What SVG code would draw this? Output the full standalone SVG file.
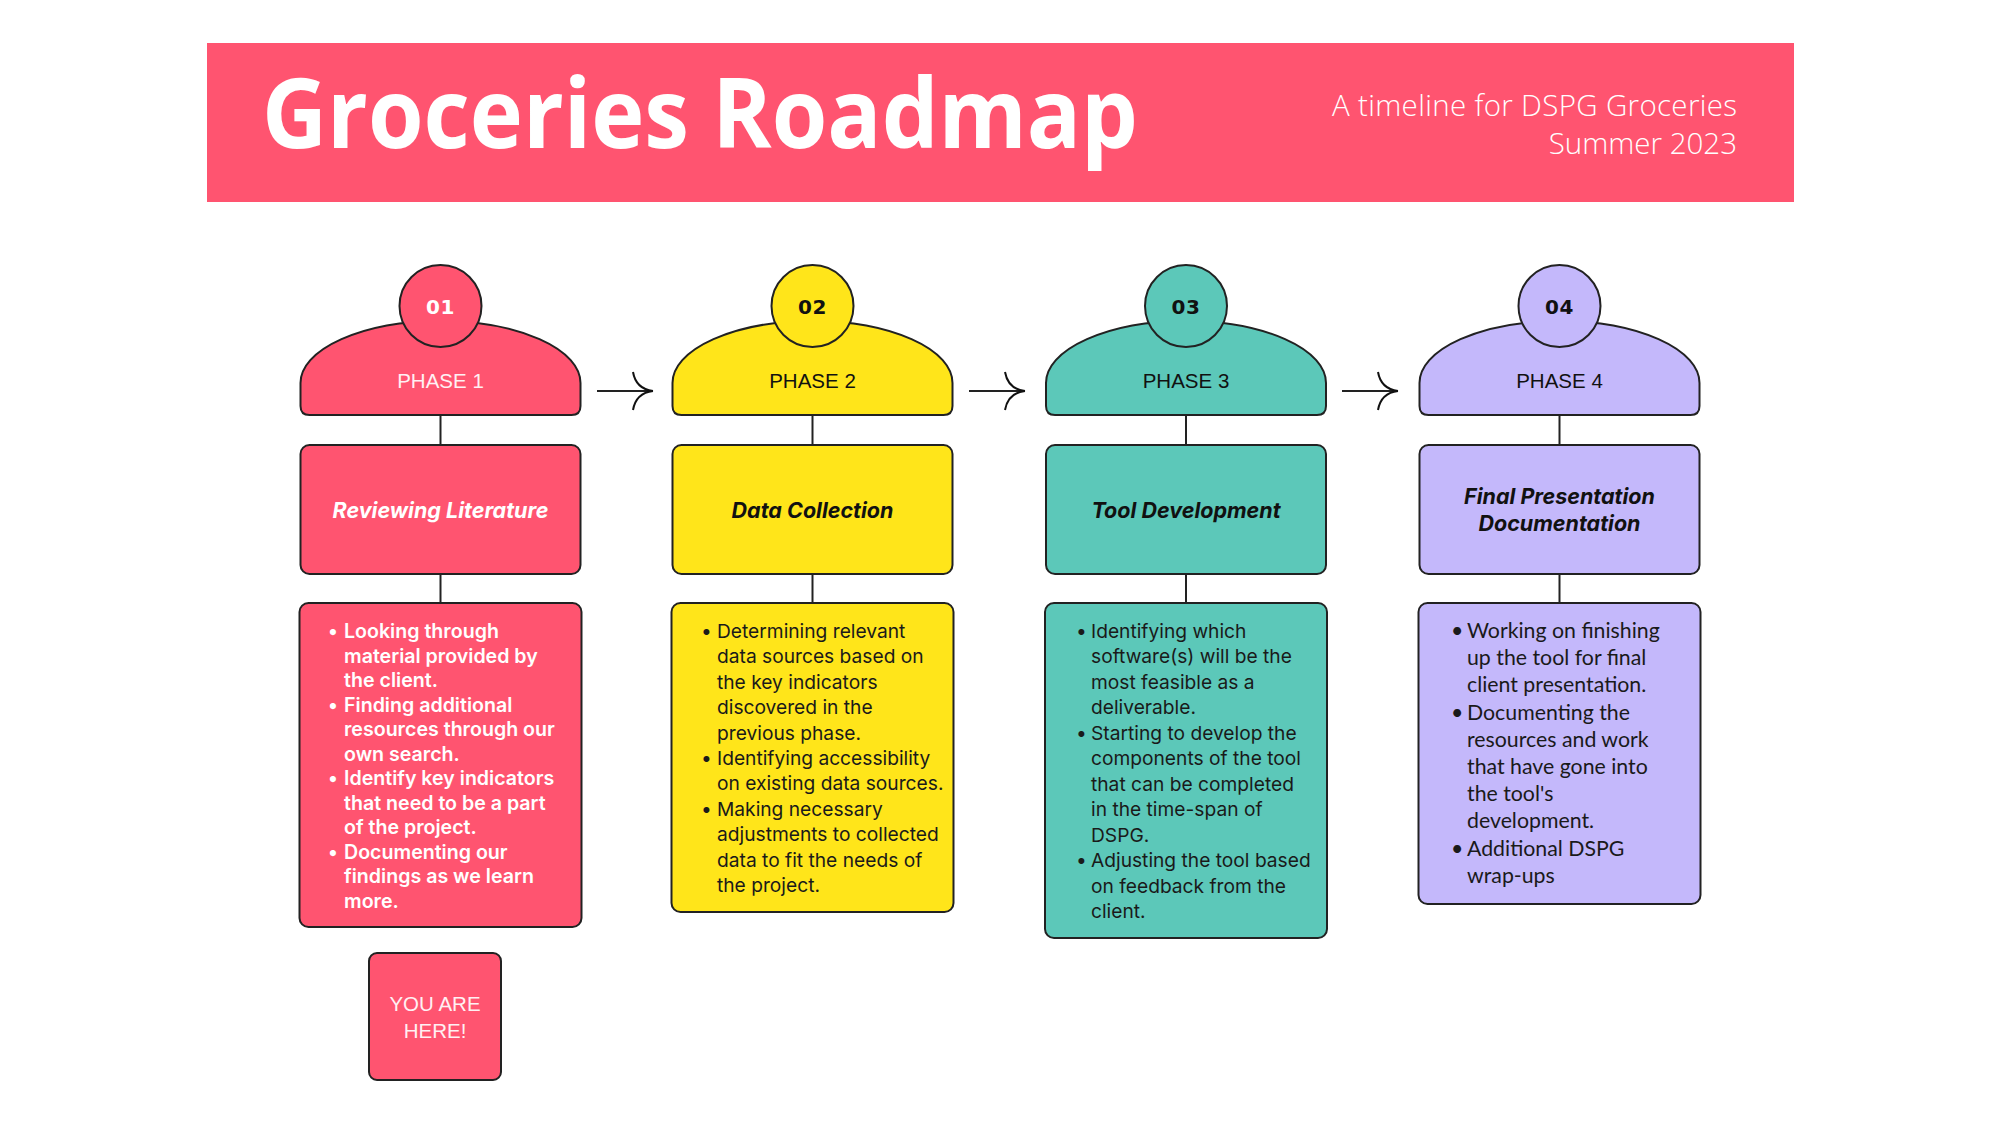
<svg xmlns="http://www.w3.org/2000/svg" width="2000" height="1125" viewBox="0 0 2000 1125">
  <style>
    .bg { fill: #ffffff; }
    .edge { stroke: #222222; stroke-width: 2; }
    .pink { fill: #FF5470; }
    .yellow { fill: #FFE51A; }
    .teal { fill: #5CC8B9; }
    .lav { fill: #C4B8FB; }
    .num { font-family: "DejaVu Sans", "Liberation Sans", sans-serif; font-weight: 700; font-size: 20px; text-anchor: middle; fill: #111111; letter-spacing: 0.5px; }
    .phase { font-family: "Liberation Sans", Arial, sans-serif; font-size: 20.5px; text-anchor: middle; fill: #111111; }
    .task { font-family: Inter, "Liberation Sans", sans-serif; font-weight: 700; font-style: italic; font-size: 21.5px; text-anchor: middle; fill: #111111; }
    .body { font-family: Inter, "Liberation Sans", sans-serif; font-size: 19.2px; fill: #1a1a1a; }
    .body1 { font-family: Inter, "Liberation Sans", sans-serif; font-weight: 600; font-size: 19.6px; fill: #ffffff; }
    .body4 { font-family: Lato, "Liberation Sans", sans-serif; font-size: 21.3px; fill: #1a1a1a; }
    .sub { font-family: "Open Sans", "Liberation Sans", sans-serif; font-weight: 300; font-size: 29.5px; fill: #ffffff; text-anchor: end; }
    .light { fill: #FFF0F3; }
    .wire { stroke: #222222; stroke-width: 2; fill: none; }
  </style>
  <defs>
    <marker id="head" markerUnits="userSpaceOnUse" viewBox="-24 -22 28 44" refX="0" refY="0" markerWidth="28" markerHeight="44" orient="auto">
      <path d="M-20,-19 Q-17,-2 0,0 M-20,19 Q-17,2 0,0" fill="none" stroke="#111111" stroke-width="2"/>
    </marker>
  </defs>

  <rect class="bg" x="0" y="0" width="2000" height="1125"/>

  <!-- Header banner -->
  <g id="header">
    <rect x="207" y="43" width="1587" height="159" fill="#FF5470"/>
    <text x="262" y="148" font-family="'Open Sans', 'Liberation Sans', sans-serif" font-weight="700" font-size="96" fill="#ffffff" textLength="876" lengthAdjust="spacingAndGlyphs">Groceries Roadmap</text>
    <text class="sub" x="1737" y="116" textLength="405" lengthAdjust="spacing">A timeline for DSPG Groceries</text>
    <text class="sub" x="1737" y="154">Summer 2023</text>
  </g>

  <!-- Connectors: stems between stacked boxes and arrows between phases -->
  <g id="connectors">
    <line class="wire" x1="440.5" y1="415" x2="440.5" y2="445"/>
    <line class="wire" x1="440.5" y1="574" x2="440.5" y2="603"/>
    <line class="wire" x1="812.5" y1="415" x2="812.5" y2="445"/>
    <line class="wire" x1="812.5" y1="574" x2="812.5" y2="603"/>
    <line class="wire" x1="1186" y1="415" x2="1186" y2="445"/>
    <line class="wire" x1="1186" y1="574" x2="1186" y2="603"/>
    <line class="wire" x1="1559.5" y1="415" x2="1559.5" y2="445"/>
    <line class="wire" x1="1559.5" y1="574" x2="1559.5" y2="603"/>
    <line class="wire" x1="597" y1="391" x2="653" y2="391" marker-end="url(#head)"/>
    <line class="wire" x1="969" y1="391" x2="1025" y2="391" marker-end="url(#head)"/>
    <line class="wire" x1="1342" y1="391" x2="1398" y2="391" marker-end="url(#head)"/>
  </g>

  <!-- Phase 1 -->
  <g id="phase1">
    <path class="pink edge" d="M300.5,383 A140,62 0 0 1 580.5,383 L580.5,406 Q580.5,415 571.5,415 L309.5,415 Q300.5,415 300.5,406 Z"/>
    <circle class="pink edge" cx="440.5" cy="306" r="41"/>
    <text class="num" x="440.5" y="314" style="fill:#ffffff">01</text>
    <text class="phase light" x="440.5" y="388">PHASE 1</text>
  </g>
  <g id="task1">
    <rect class="pink edge" x="300.5" y="445" width="280" height="129" rx="9"/>
    <text class="task" x="440.5" y="518" style="fill:#ffffff">Reviewing Literature</text>
  </g>
  <g id="details1">
    <rect class="pink edge" x="299.5" y="603" width="282" height="324" rx="9"/>
    <text class="body1">
      <tspan x="328" y="638">•</tspan>
      <tspan x="328" y="711.5">•</tspan>
      <tspan x="328" y="785">•</tspan>
      <tspan x="328" y="858.5">•</tspan>
    </text>
    <text class="body1">
      <tspan x="344" y="638">Looking through</tspan>
      <tspan x="344" dy="24.5">material provided by</tspan>
      <tspan x="344" dy="24.5">the client.</tspan>
      <tspan x="344" dy="24.5">Finding additional</tspan>
      <tspan x="344" dy="24.5">resources through our</tspan>
      <tspan x="344" dy="24.5">own search.</tspan>
      <tspan x="344" dy="24.5">Identify key indicators</tspan>
      <tspan x="344" dy="24.5">that need to be a part</tspan>
      <tspan x="344" dy="24.5">of the project.</tspan>
      <tspan x="344" dy="24.5">Documenting our</tspan>
      <tspan x="344" dy="24.5">findings as we learn</tspan>
      <tspan x="344" dy="24.5">more.</tspan>
    </text>
  </g>
  <g id="you-are-here">
    <rect class="pink edge" x="369" y="953" width="132" height="127" rx="8"/>
    <text class="phase light" x="435" y="1011">YOU ARE</text>
    <text class="phase light" x="435" y="1038">HERE!</text>
  </g>

  <!-- Phase 2 -->
  <g id="phase2">
    <path class="yellow edge" d="M672.5,383 A140,62 0 0 1 952.5,383 L952.5,406 Q952.5,415 943.5,415 L681.5,415 Q672.5,415 672.5,406 Z"/>
    <circle class="yellow edge" cx="812.5" cy="306" r="41"/>
    <text class="num" x="812.5" y="314">02</text>
    <text class="phase" x="812.5" y="388">PHASE 2</text>
  </g>
  <g id="task2">
    <rect class="yellow edge" x="672.5" y="445" width="280" height="129" rx="9"/>
    <text class="task" x="812.5" y="518">Data Collection</text>
  </g>
  <g id="details2">
    <rect class="yellow edge" x="671.5" y="603" width="282" height="309" rx="9"/>
    <text class="body">
      <tspan x="701" y="638">•</tspan>
      <tspan x="701" y="765">•</tspan>
      <tspan x="701" y="815.8">•</tspan>
    </text>
    <text class="body">
      <tspan x="717" y="638">Determining relevant</tspan>
      <tspan x="717" dy="25.4">data sources based on</tspan>
      <tspan x="717" dy="25.4">the key indicators</tspan>
      <tspan x="717" dy="25.4">discovered in the</tspan>
      <tspan x="717" dy="25.4">previous phase.</tspan>
      <tspan x="717" dy="25.4">Identifying accessibility</tspan>
      <tspan x="717" dy="25.4">on existing data sources.</tspan>
      <tspan x="717" dy="25.4">Making necessary</tspan>
      <tspan x="717" dy="25.4">adjustments to collected</tspan>
      <tspan x="717" dy="25.4">data to fit the needs of</tspan>
      <tspan x="717" dy="25.4">the project.</tspan>
    </text>
  </g>

  <!-- Phase 3 -->
  <g id="phase3">
    <path class="teal edge" d="M1046,383 A140,62 0 0 1 1326,383 L1326,406 Q1326,415 1317,415 L1055,415 Q1046,415 1046,406 Z"/>
    <circle class="teal edge" cx="1186" cy="306" r="41"/>
    <text class="num" x="1186" y="314">03</text>
    <text class="phase" x="1186" y="388">PHASE 3</text>
  </g>
  <g id="task3">
    <rect class="teal edge" x="1046" y="445" width="280" height="129" rx="9"/>
    <text class="task" x="1186" y="518">Tool Development</text>
  </g>
  <g id="details3">
    <rect class="teal edge" x="1045" y="603" width="282" height="335" rx="9"/>
    <text class="body">
      <tspan x="1076" y="638">•</tspan>
      <tspan x="1076" y="739.8">•</tspan>
      <tspan x="1076" y="867">•</tspan>
    </text>
    <text class="body">
      <tspan x="1091" y="638">Identifying which</tspan>
      <tspan x="1091" dy="25.45">software(s) will be the</tspan>
      <tspan x="1091" dy="25.45">most feasible as a</tspan>
      <tspan x="1091" dy="25.45">deliverable.</tspan>
      <tspan x="1091" dy="25.45">Starting to develop the</tspan>
      <tspan x="1091" dy="25.45">components of the tool</tspan>
      <tspan x="1091" dy="25.45">that can be completed</tspan>
      <tspan x="1091" dy="25.45">in the time-span of</tspan>
      <tspan x="1091" dy="25.45">DSPG.</tspan>
      <tspan x="1091" dy="25.45">Adjusting the tool based</tspan>
      <tspan x="1091" dy="25.45">on feedback from the</tspan>
      <tspan x="1091" dy="25.45">client.</tspan>
    </text>
  </g>

  <!-- Phase 4 -->
  <g id="phase4">
    <path class="lav edge" d="M1419.5,383 A140,62 0 0 1 1699.5,383 L1699.5,406 Q1699.5,415 1690.5,415 L1428.5,415 Q1419.5,415 1419.5,406 Z"/>
    <circle class="lav edge" cx="1559.5" cy="306" r="41"/>
    <text class="num" x="1559.5" y="314">04</text>
    <text class="phase" x="1559.5" y="388">PHASE 4</text>
  </g>
  <g id="task4">
    <rect class="lav edge" x="1419.5" y="445" width="280" height="129" rx="9"/>
    <text class="task" x="1559.5" y="504">Final Presentation</text>
    <text class="task" x="1559.5" y="531">Documentation</text>
  </g>
  <g id="details4">
    <rect class="lav edge" x="1418.5" y="603" width="282" height="301" rx="9"/>
    <text class="body4">
      <tspan x="1451" y="638">•</tspan>
      <tspan x="1451" y="719.6">•</tspan>
      <tspan x="1451" y="855.6">•</tspan>
    </text>
    <text class="body4">
      <tspan x="1467" y="638">Working on finishing</tspan>
      <tspan x="1467" dy="27.2">up the tool for final</tspan>
      <tspan x="1467" dy="27.2">client presentation.</tspan>
      <tspan x="1467" dy="27.2">Documenting the</tspan>
      <tspan x="1467" dy="27.2">resources and work</tspan>
      <tspan x="1467" dy="27.2">that have gone into</tspan>
      <tspan x="1467" dy="27.2">the tool's</tspan>
      <tspan x="1467" dy="27.2">development.</tspan>
      <tspan x="1467" dy="27.2">Additional DSPG</tspan>
      <tspan x="1467" dy="27.2">wrap-ups</tspan>
    </text>
  </g>
</svg>
